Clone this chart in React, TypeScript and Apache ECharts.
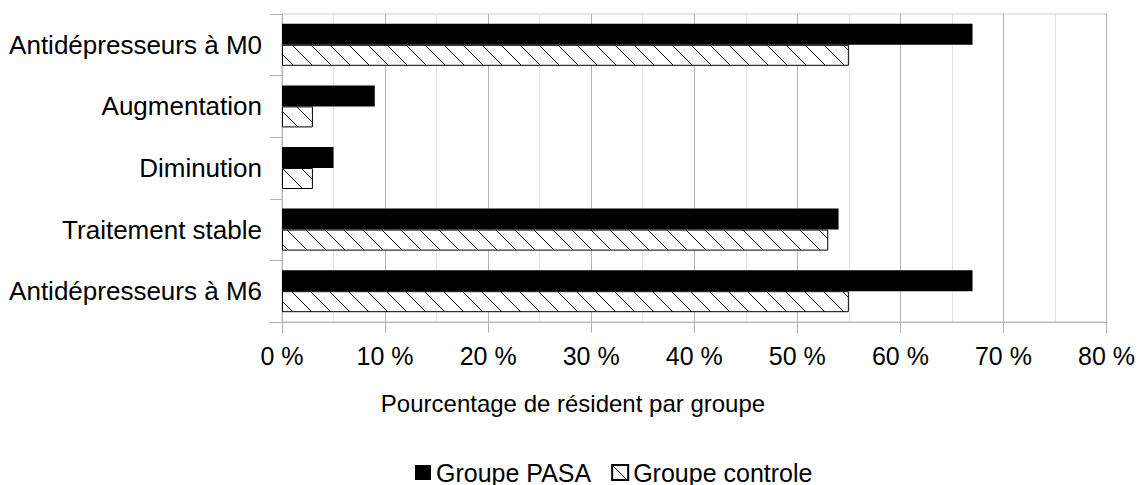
import React, { useEffect, useRef } from "react";
import * as echarts from "echarts";

const categories = [
  "Antidépresseurs à M0",
  "Augmentation",
  "Diminution",
  "Traitement stable",
  "Antidépresseurs à M6",
];
const seriesNames = ["Groupe PASA", "Groupe controle"];
const pasaValues = [67, 9, 5, 54, 67];
const controleValues = [55, 3, 3, 53, 55];
const xMin = 0;
const xMax = 80;
const xInterval = 10;
const xAxisTitle = "Pourcentage de résident par groupe";

const FONT = "'Liberation Sans', Arial, sans-serif";

const hatchSvg =
  "<svg xmlns='http://www.w3.org/2000/svg' width='19' height='19'>" +
  "<rect width='19' height='19' fill='white'/>" +
  "<path d='M0 0L19 19M-1 18L1 20M18 -1L20 1' stroke='black' stroke-width='1' fill='none'/>" +
  "</svg>";
const hatchUrl = "data:image/svg+xml;charset=utf-8," + encodeURIComponent(hatchSvg);

export default function App() {
  const ref = useRef<HTMLDivElement>(null);

  useEffect(() => {
    document.body.style.margin = "0";
    if (!ref.current) return;
    const chart = echarts.init(ref.current, null, { renderer: "svg" });
    const gray = "#b3b3b3";
    chart.setOption({
      animation: false,
      backgroundColor: "#ffffff",
      textStyle: { fontFamily: FONT, color: "#000" },
      grid: {
        left: 282,
        top: 14,
        width: 825.5,
        height: 308,
        show: true,
        borderColor: "#cccccc",
        borderWidth: 1,
        containLabel: false,
      },
      legend: {
        left: 415,
        top: 460,
        padding: 0,
        itemWidth: 16,
        itemHeight: 15,
        itemGap: 20,
        icon: "rect",
        textStyle: { fontFamily: FONT, fontSize: 25, color: "#000" },
        data: seriesNames,
      },
      xAxis: {
        type: "value",
        min: xMin,
        max: xMax,
        interval: xInterval,
        axisLine: { show: true, lineStyle: { color: gray } },
        axisTick: { show: true, length: 11, lineStyle: { color: gray } },
        axisLabel: {
          fontFamily: FONT,
          fontSize: 25,
          color: "#000",
          margin: 21,
          formatter: (v: number) => `${v} %`,
        },
        splitLine: { show: true, lineStyle: { color: gray } },
        minorTick: { show: false, splitNumber: 2 },
        minorSplitLine: { show: true, lineStyle: { color: "#e3e3e3" } },
      },
      yAxis: {
        type: "category",
        inverse: true,
        data: categories,
        axisLine: { show: true, lineStyle: { color: gray } },
        axisTick: { show: true, length: 12, lineStyle: { color: gray } },
        axisLabel: { fontFamily: FONT, fontSize: 26, color: "#000", margin: 20 },
        splitLine: { show: false },
      },
      graphic: [
        {
          type: "text",
          x: 573,
          y: 403,
          style: {
            text: xAxisTitle,
            fontFamily: FONT,
            fontSize: 24,
            fill: "#000",
            textAlign: "center",
            textVerticalAlign: "middle",
          },
        },
      ],
      series: [
        {
          name: seriesNames[0],
          type: "bar",
          data: pasaValues,
          barWidth: 21,
          barGap: "0%",
          itemStyle: { color: "#000000" },
        },
        {
          name: seriesNames[1],
          type: "bar",
          data: controleValues,
          barWidth: 21,
          barGap: "0%",
          itemStyle: {
            color: { image: hatchUrl, repeat: "repeat", imageWidth: 19, imageHeight: 19 },
            borderColor: "#000000",
            borderWidth: 1,
          },
        },
      ],
    });
    return () => chart.dispose();
  }, []);

  return <div ref={ref} style={{ width: 1138, height: 485 }} />;
}
